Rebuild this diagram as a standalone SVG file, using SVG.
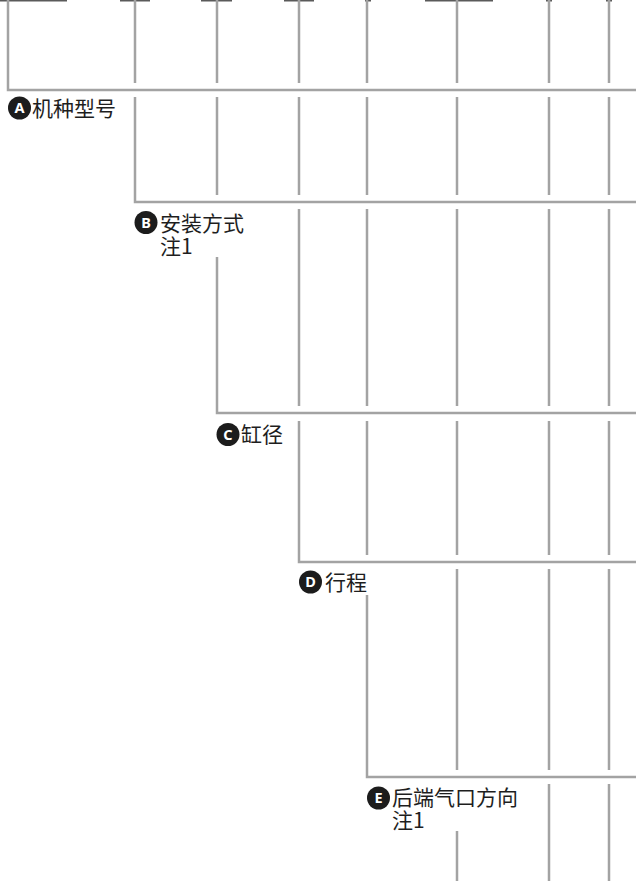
<svg xmlns="http://www.w3.org/2000/svg" width="636" height="881" viewBox="0 0 636 881">
<style>
.ln{stroke:#a3a3a3;stroke-width:2.5;fill:none;stroke-linecap:butt;stroke-linejoin:miter}
.stub{fill:#5a5a5a}
.lbl{font-family:"Noto Sans CJK SC","Noto Sans",sans-serif;font-size:21px;fill:#1e1e1e}
.bdg{fill:#1c1c1c}
.bl{font-family:"Noto Sans","DejaVu Sans",sans-serif;font-size:14.5px;font-weight:bold;fill:#fff;text-anchor:middle}
</style>
<rect width="636" height="881" fill="#fff"/>
<g id="connectors">
<g id="top-stubs">
<rect class="stub" x="0" y="0" width="67" height="1.5"/>
<rect class="stub" x="120" y="0" width="30" height="1.5"/>
<rect class="stub" x="201" y="0" width="31" height="1.5"/>
<rect class="stub" x="284" y="0" width="30" height="1.5"/>
<rect class="stub" x="365" y="0" width="6" height="1.5"/>
<rect class="stub" x="425" y="0" width="68" height="1.5"/>
<rect class="stub" x="546" y="0" width="6" height="1.5"/>
<rect class="stub" x="606" y="0" width="6" height="1.5"/>
</g>
<path class="ln" d="M8,0 V90 H636"/>
<path class="ln" d="M135,0 V83 M217,0 V83 M299,0 V83 M367,0 V83 M457,0 V83 M549,0 V83 M609,0 V83"/>
<path class="ln" d="M135,97 V202 H636"/>
<path class="ln" d="M217,97 V195 M299,97 V195 M367,97 V195 M457,97 V195 M549,97 V195 M609,97 V195"/>
<path class="ln" d="M217,257 V413 H636"/>
<path class="ln" d="M299,209 V406 M367,209 V406 M457,209 V406 M549,209 V406 M609,209 V406"/>
<path class="ln" d="M299,421 V562 H636"/>
<path class="ln" d="M367,421 V555 M457,421 V555 M549,421 V555 M609,421 V555"/>
<path class="ln" d="M367,595 V777 H636"/>
<path class="ln" d="M457,569 V770 M549,569 V770 M609,569 V770"/>
<path class="ln" d="M457,831 V881 M549,784 V881 M609,784 V881"/>
</g>
<g id="node-A">
<circle class="bdg" cx="19.5" cy="108" r="11.5"/>
<text class="bl" x="19.5" y="113">A</text>
<text class="lbl" x="32" y="116">机种型号</text>
</g>
<g id="node-B">
<circle class="bdg" cx="146" cy="222.5" r="11.5"/>
<text class="bl" x="146" y="227.5">B</text>
<text class="lbl" x="160" y="231">安装方式</text>
<text class="lbl" x="160" y="254">注1</text>
</g>
<g id="node-C">
<circle class="bdg" cx="228" cy="434.5" r="11.5"/>
<text class="bl" x="228" y="439.5">C</text>
<text class="lbl" x="241" y="442">缸径</text>
</g>
<g id="node-D">
<circle class="bdg" cx="310.5" cy="582" r="11.5"/>
<text class="bl" x="310.5" y="587">D</text>
<text class="lbl" x="325" y="590">行程</text>
</g>
<g id="node-E">
<circle class="bdg" cx="378.5" cy="798" r="11.5"/>
<text class="bl" x="378.5" y="803">E</text>
<text class="lbl" x="392" y="805">后端气口方向</text>
<text class="lbl" x="392" y="828">注1</text>
</g>
</svg>
